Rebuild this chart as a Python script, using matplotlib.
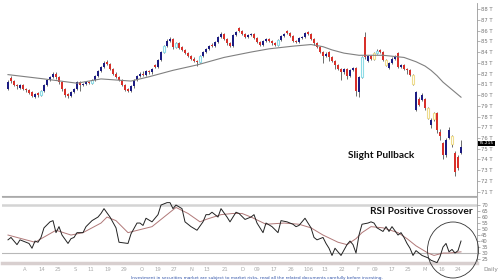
import matplotlib
matplotlib.use("Agg")
import matplotlib.pyplot as plt
from matplotlib.patches import Ellipse

# daily candles (price in T)
opens = [80.6, 81.6, 81.3, 80.9, 80.7, 80.9, 80.6, 80.5, 80.3, 79.8,
         80.2, 80.0, 80.4, 80.9, 81.4, 81.7, 82.0, 81.7, 81.2, 80.6,
         80.1, 79.9, 80.3, 80.6, 81.2, 80.9, 81.0, 81.2, 81.1, 81.4,
         81.8, 82.2, 82.6, 83.1, 82.9, 82.4, 82.0, 81.7, 81.4, 80.9,
         80.6, 80.4, 80.8, 81.4, 81.8, 82.0, 81.9, 82.2, 82.1, 82.8,
         82.6, 83.3, 84.0, 84.6, 85.0, 85.2, 84.5, 84.8, 84.5, 84.2,
         83.9, 83.6, 83.4, 83.2, 83.1, 83.6, 84.0, 84.3, 84.7, 84.6,
         84.9, 85.4, 85.7, 85.2, 84.8, 84.6, 85.6, 86.2, 86.0, 85.7,
         85.4, 85.6, 85.7, 85.3, 84.9, 84.7, 85.0, 85.2, 85.0, 84.8,
         84.7, 85.1, 85.5, 86.0, 85.8, 85.5, 85.0, 84.9, 85.3, 85.4,
         85.9, 85.7, 85.2, 84.8, 84.5, 84.0, 83.6, 84.0, 83.5, 83.2,
         82.8, 82.4, 82.1, 82.4, 81.8, 82.3, 82.5, 80.3, 81.7, 85.4,
         83.2, 83.6, 83.4, 83.9, 84.2, 84.0, 83.3, 82.5, 83.0, 83.4,
         83.9, 82.6, 82.8, 82.4, 82.3, 81.9, 78.6, 79.6, 79.5, 79.6,
         78.8, 77.2, 78.3, 78.3, 76.6, 75.5, 74.4, 76.0, 76.2, 74.6,
         74.2, 74.6]
closes = [81.2, 81.3, 80.9, 80.8, 80.9, 80.6, 80.5, 80.2, 79.9, 80.1,
          80.0, 80.4, 80.9, 81.4, 81.7, 82.0, 81.7, 81.2, 80.6, 80.0,
          79.9, 80.3, 80.6, 81.2, 80.9, 81.0, 81.2, 81.1, 81.4, 81.8,
          82.2, 82.6, 83.0, 82.9, 82.4, 82.0, 81.7, 81.4, 80.9, 80.5,
          80.4, 80.8, 81.4, 81.8, 82.0, 81.9, 82.2, 82.1, 82.4, 82.6,
          83.3, 84.0, 84.6, 85.0, 85.2, 84.5, 84.8, 84.4, 84.2, 83.9,
          83.6, 83.4, 83.2, 83.1, 83.6, 84.0, 84.3, 84.6, 84.6, 84.9,
          85.4, 85.7, 85.2, 84.8, 84.6, 85.6, 85.9, 86.0, 85.7, 85.4,
          85.6, 85.7, 85.3, 84.9, 84.7, 85.0, 85.2, 85.0, 84.8, 84.7,
          85.1, 85.5, 85.7, 85.8, 85.5, 85.0, 84.9, 85.3, 85.4, 85.8,
          85.7, 85.2, 84.8, 84.5, 84.0, 83.6, 83.8, 83.5, 83.2, 82.8,
          82.4, 82.1, 82.4, 81.8, 82.3, 82.5, 80.4, 81.7, 83.5, 83.5,
          83.6, 83.4, 83.9, 84.1, 84.0, 83.3, 82.8, 83.0, 83.4, 83.6,
          82.6, 82.8, 82.4, 82.3, 81.9, 81.0, 80.3, 79.1, 80.0, 78.8,
          77.9, 77.7, 77.8, 76.7, 76.2, 74.4, 75.8, 76.7, 75.4, 72.8,
          73.2, 75.2]
highs = [81.4, 81.8, 81.4, 81.0, 81.0, 81.0, 80.7, 80.6, 80.4, 80.2,
         80.3, 80.5, 81.0, 81.5, 81.8, 82.1, 82.1, 81.8, 81.3, 80.7,
         80.2, 80.4, 80.7, 81.3, 81.3, 81.1, 81.3, 81.3, 81.5, 81.9,
         82.3, 82.7, 83.2, 83.3, 83.0, 82.5, 82.1, 81.8, 81.5, 81.0,
         80.7, 80.9, 81.5, 81.9, 82.1, 82.2, 82.3, 82.3, 82.5, 82.9,
         83.4, 84.1, 84.7, 85.2, 85.4, 85.3, 84.9, 84.9, 84.6, 84.3,
         84.0, 83.7, 83.5, 83.3, 83.7, 84.1, 84.4, 84.7, 84.8, 85.0,
         85.5, 85.9, 85.8, 85.3, 84.9, 85.7, 86.0, 86.3, 86.1, 85.8,
         85.7, 85.8, 85.8, 85.4, 85.0, 85.1, 85.3, 85.3, 85.1, 84.9,
         85.2, 85.6, 85.8, 86.1, 85.9, 85.6, 85.1, 85.4, 85.5, 85.9,
         86.0, 85.8, 85.3, 84.9, 84.6, 84.1, 84.0, 84.1, 83.6, 83.3,
         82.9, 82.5, 82.5, 82.5, 82.4, 82.6, 82.6, 81.8, 83.6, 85.9,
         83.7, 83.7, 84.0, 84.3, 84.3, 84.1, 83.4, 83.1, 83.5, 83.7,
         84.0, 82.9, 82.9, 82.5, 82.4, 82.0, 80.4, 79.8, 80.2, 79.7,
         78.9, 77.9, 78.4, 78.4, 76.8, 75.6, 76.0, 77.0, 76.3, 74.8,
         74.4, 75.8]
lows = [80.5, 81.1, 80.8, 80.6, 80.6, 80.5, 80.3, 80.1, 79.8, 79.7,
        79.8, 79.9, 80.3, 80.8, 81.3, 81.6, 81.5, 81.0, 80.4, 79.8,
        79.7, 79.8, 80.2, 80.5, 80.4, 80.8, 80.9, 81.0, 81.0, 81.3,
        81.7, 82.1, 82.5, 82.8, 82.3, 81.9, 81.6, 81.3, 80.8, 80.4,
        80.3, 80.3, 80.7, 81.3, 81.7, 81.8, 81.8, 82.0, 82.0, 82.5,
        82.5, 83.2, 83.9, 84.5, 84.9, 84.3, 84.4, 84.3, 84.1, 83.8,
        83.5, 83.3, 83.1, 82.7, 83.0, 83.5, 83.9, 84.2, 84.5, 84.5,
        84.8, 85.3, 85.1, 84.7, 84.5, 84.5, 85.5, 85.9, 85.6, 85.3,
        85.3, 85.5, 85.2, 84.8, 84.6, 84.6, 84.9, 84.9, 84.7, 84.6,
        84.6, 85.0, 85.4, 85.7, 85.4, 84.9, 84.8, 84.8, 85.2, 85.3,
        85.6, 85.1, 84.7, 84.4, 83.9, 83.0, 83.5, 83.2, 83.1, 82.4,
        82.3, 81.4, 82.0, 81.5, 81.7, 82.2, 79.9, 79.8, 81.6, 83.4,
        83.1, 83.3, 83.3, 83.8, 83.9, 83.2, 82.7, 82.4, 82.9, 83.3,
        82.5, 82.5, 82.3, 82.0, 81.8, 80.9, 78.5, 79.0, 79.4, 78.6,
        77.8, 76.9, 77.6, 76.5, 75.8, 74.0, 74.2, 75.9, 75.2, 72.5,
        73.0, 74.5]
cyan_days = [11, 28, 52, 56, 64, 90, 118, 123]
yellow_days = [122, 126, 135, 140, 142, 148]

# moving average
ma_days = [0, 12, 23, 31, 41, 47, 55, 63, 72, 81, 87, 95, 101, 105, 108,
           112, 117, 125, 132, 136, 139, 141, 143, 145, 148, 151]
ma_vals = [81.9, 81.5, 81.1, 81.5, 81.3, 81.7, 82.3, 82.8, 83.5, 84.0, 84.3,
           84.55, 84.7, 84.5, 84.2, 83.9, 83.7, 83.7, 83.5, 83.1, 82.7, 82.3,
           81.8, 81.2, 80.5, 79.8]

# RSI and its average
rsi_days = [0, 1, 3, 4, 6, 7, 8, 9, 10, 11, 12, 14, 15, 16, 17, 18, 20, 21,
            22, 23, 25, 26, 28, 30, 31, 32, 34, 36, 37, 40, 41, 43, 44, 45, 46,
            48, 50, 51, 53, 54, 55, 56, 58, 59, 61, 63, 65, 66, 67, 68, 70, 71,
            73, 74, 76, 77, 79, 81, 82, 83, 85, 86, 88, 90, 91, 93, 95, 96, 97,
            99, 101, 102, 103, 105, 106, 107, 108, 109, 110, 111, 113, 114, 115,
            116, 117, 118, 120, 121, 122, 123, 125, 126, 127, 128, 130, 131,
            132, 133, 134, 135, 136, 137, 138, 140, 141, 143, 144, 145, 146,
            147, 148, 149, 150, 151]
rsi_vals = [41, 43, 37, 41, 39, 38, 34, 40, 39, 43, 51, 56, 57, 47, 52, 45, 38,
            42, 43, 47, 47, 52, 57, 60, 63, 67, 60, 51, 39, 38, 46, 55, 55, 53,
            59, 56, 62, 70, 72, 72, 67, 70, 67, 56, 52, 49, 56, 62, 62, 64, 60,
            67, 60, 56, 64, 63, 58, 60, 62, 55, 47, 55, 52, 47, 57, 56, 54, 52,
            53, 59, 51, 43, 41, 43, 38, 34, 28, 34, 31, 28, 37, 40, 37, 30, 45,
            54, 55, 56, 55, 51, 48, 52, 48, 52, 45, 47, 43, 38, 34, 28, 32, 30,
            28, 26, 24, 22, 27, 35, 38, 31, 33, 30, 32, 40]
rsi_ma_days = [0, 9, 16, 21, 25, 31, 33, 36, 40, 48, 53, 56, 60, 64, 66, 71,
               75, 78, 81, 86, 92, 97, 101, 105, 110, 113, 116, 118, 121, 125,
               130, 133, 136, 140, 142, 145, 147, 151]
rsi_ma_vals = [45, 39, 49, 45, 47, 55, 60, 57, 47, 52, 62, 68, 63, 56, 58, 62,
               63, 63, 60, 54, 55, 54, 51, 45, 39, 37, 42, 47, 52, 51, 47, 42,
               36, 30, 28, 30, 30, 31]

date_labels = ["A", "14", "25", "S", "11", "19", "29", "O", "19", "27", "N",
               "13", "21", "D", "09", "17", "26", "106", "13", "22", "F",
               "09", "17", "25", "M", "16", "24"]
date_pos = [5.7, 11.3, 16.7, 22.3, 27.7, 33.3, 38.7, 44.7, 50, 55.3, 61, 66.3,
            72.3, 78, 83, 88.7, 94.3, 100, 105.7, 111.3, 116.7, 122.3, 128,
            133.3, 139, 144.7, 150]

plt.rcParams['font.family'] = ['DejaVu Sans']
RED = '#d8302a'
BLUE = '#1c1c82'
CYAN = '#8edbe6'
YELLOW = '#eedc8e'

fig = plt.figure(figsize=(5, 2.8), dpi=100)
ax = fig.add_axes([0.004, 0.30, 0.95, 0.689])
ax2 = fig.add_axes([0.004, 0.0607, 0.95, 0.2357])

days = list(range(len(closes)))
ax.vlines(days, lows, highs, color='#555555', lw=0.6, zorder=2)
for i in days:
    body = closes[i] - opens[i]
    if i in cyan_days:
        ax.bar(i, body, bottom=opens[i], width=0.75, facecolor='white',
               edgecolor=CYAN, lw=0.8, zorder=3)
    elif i in yellow_days:
        ax.bar(i, body, bottom=opens[i], width=0.75, facecolor='white',
               edgecolor=YELLOW, lw=0.8, zorder=3)
    else:
        c = BLUE if body >= 0 else RED
        ax.bar(i, body, bottom=opens[i], width=0.8, color=c, lw=0, zorder=3)
ax.plot(ma_days, ma_vals, color='#808080', lw=0.8, zorder=4)

ax.set_xlim(-2, 156.33)
ax.set_ylim(70.6, 88.56)
ax.yaxis.tick_right()
ax.set_yticks(range(71, 89))
ax.set_yticklabels([f"{v} T" for v in range(71, 89)])
ax.tick_params(axis='y', length=2, width=0.5, colors='#999999', labelsize=3.8,
               labelcolor='#777777', pad=1)
ax.set_xticks([])
for s in ['left', 'top']:
    ax.spines[s].set_visible(False)
ax.spines['right'].set_color('#999999')
ax.spines['right'].set_linewidth(0.6)
ax.spines['bottom'].set_color('#aaaaaa')
ax.spines['bottom'].set_linewidth(0.8)

# RSI panel
ax2.axhline(70, color='#d4d4d4', lw=1.8, zorder=1)
ax2.axhline(30, color='#b8b8b8', lw=0.8, zorder=1)
ax2.plot(rsi_ma_days, rsi_ma_vals, color='#b07878', lw=0.7, zorder=2)
ax2.plot(rsi_days, rsi_vals, color='#222222', lw=0.7, zorder=3)
ax2.set_xlim(-2, 156.33)
ax2.set_ylim(21.7, 76.7)
ax2.yaxis.tick_right()
ax2.set_yticks(range(25, 75, 5))
ax2.tick_params(axis='y', length=2, width=0.5, colors='#999999', labelsize=3.8,
                labelcolor='#777777', pad=1)
ax2.set_xticks(date_pos)
ax2.set_xticklabels(date_labels)
ax2.tick_params(axis='x', length=0, labelsize=3.8, labelcolor='#aaaaaa', pad=3)
ax2.spines['left'].set_visible(False)
ax2.spines['top'].set_color('#aaaaaa')
ax2.spines['top'].set_linewidth(0.6)
ax2.spines['right'].set_color('#999999')
ax2.spines['right'].set_linewidth(0.6)
ax2.spines['bottom'].set_color('#d8cfcf')
ax2.spines['bottom'].set_linewidth(2.5)

# annotations
fig.text(348 / 500, 1 - 155 / 280, "Slight Pullback", family=['Lato', 'DejaVu Sans'],
         fontweight='bold', fontsize=7.3, va='center', ha='left', color='#111111')
fig.text(370 / 500, 1 - 211 / 280, "RSI Positive Crossover", family=['Lato', 'DejaVu Sans'],
         fontweight='bold', fontsize=7.3, va='center', ha='left', color='#111111')
fig.add_artist(Ellipse((453 / 500, 1 - 250 / 280), 51 / 500, 56 / 280,
                       transform=fig.transFigure, fill=False, lw=0.6,
                       edgecolor='#333333'))
fig.text(479 / 500, 1 - 143.5 / 280, "75.215", fontsize=3.1, color='white',
         va='center', ha='left',
         bbox=dict(facecolor='black', edgecolor='none', pad=0.4))
fig.text(483 / 500, 1 - 270 / 280, "Daily", fontsize=4.2, color='#888888',
         va='center', ha='left')
fig.text(257 / 500, 1 - 277.5 / 280,
         "Investment in securities market are subject to market risks, read all the "
         "related documents carefully before investing.",
         fontsize=3.1, color='#3355aa', va='center', ha='center')

fig.savefig("out.png", dpi=100)
